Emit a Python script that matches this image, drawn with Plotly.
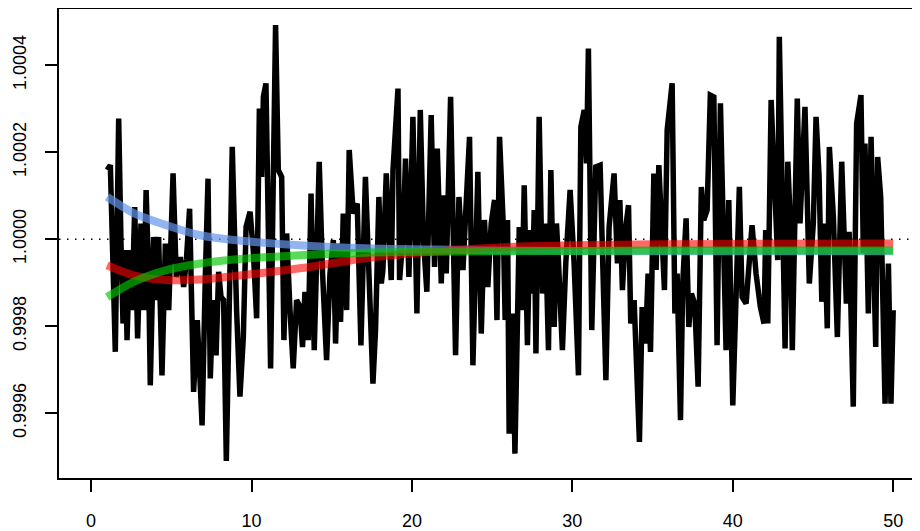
import plotly.graph_objects as go

# Black noisy series
black_x = [1.00, 1.20, 1.51, 1.72, 1.87, 1.99, 2.14, 2.24, 2.41, 2.55, 2.72, 2.90, 3.11, 3.28, 3.43, 3.59, 3.69,
           3.90, 4.07, 4.21, 4.42, 4.63, 4.84, 5.11, 5.31, 5.56, 5.77, 5.94, 6.14, 6.39, 6.62, 6.92, 7.12, 7.29,
           7.43, 7.60, 7.79, 7.95, 8.10, 8.26, 8.43, 8.80,
           9.07, 9.28, 9.49, 9.66, 9.91, 10.11, 10.32, 10.49, 10.63, 10.74, 10.90, 11.05, 11.19, 11.36, 11.50,
           11.67, 11.88, 12.02, 12.19, 12.40, 12.60, 12.81, 13.02, 13.18, 13.33, 13.54, 13.71, 13.91, 14.22,
           14.43, 14.68, 14.89, 15.10, 15.24, 15.41, 15.55, 15.72, 15.93, 16.09, 16.34, 16.59, 16.82, 17.10,
           17.57, 17.73, 17.94, 18.09, 18.19, 18.40, 18.71, 18.82, 19.13, 19.23, 19.44, 19.60, 19.81, 20.06,
           20.31, 20.52, 20.72, 20.93, 21.20, 21.41, 21.58, 21.83, 21.97, 22.14, 22.41, 22.55, 22.72, 22.93,
           23.18, 23.38, 23.59, 23.80, 24.11, 24.32, 24.52, 24.73, 24.94, 25.15, 25.30, 25.46,
           25.69, 25.81, 25.96, 26.06, 26.27, 26.42, 26.58, 26.69, 26.85, 27.00, 27.20, 27.35, 27.51, 27.62,
           27.73, 27.93, 28.14, 28.31, 28.51, 28.66, 28.87, 29.01, 29.13, 29.38, 29.59, 29.86, 30.11, 30.38,
           30.53, 30.74, 30.88, 31.00, 31.21, 31.46, 31.73, 31.88, 32.09, 32.29, 32.60, 32.81, 32.96, 33.12,
           33.33, 33.50, 33.64,
           33.85, 34.18, 34.35, 34.56, 34.72, 34.87, 35.08, 35.22, 35.39, 35.60, 35.74, 35.91, 36.22, 36.39,
           36.53, 36.74, 36.88, 37.09, 37.26, 37.42, 37.63, 37.84, 38.04, 38.19, 38.40, 38.60, 38.82, 39.02,
           39.23, 39.58, 39.75, 40.00, 40.21, 40.41, 40.58, 40.83, 41.20, 41.45, 41.72, 41.95,
           42.05, 42.18, 42.39, 42.64, 42.80, 42.90, 43.09, 43.26, 43.43, 43.57, 43.71, 44.02, 44.19, 44.50,
           44.77, 45.02, 45.19, 45.38, 45.55, 45.71, 45.89, 46.02, 46.27, 46.52, 46.79, 46.93, 47.08, 47.25,
           47.51, 47.72, 47.99, 48.14, 48.24, 48.45, 48.62, 48.76, 48.91, 49.03, 49.22, 49.49, 49.70, 49.86,
           50.00]
black_y = [1.000159, 1.000170, 0.999741, 1.000277, 0.999982, 0.999806, 0.999975, 0.999768, 0.999975, 0.999837,
           1.000074, 0.999772, 1.000036, 0.999837, 1.000113, 0.999913, 0.999664, 1.000005, 0.999860, 1.000005,
           0.999687, 0.999990, 0.999837, 1.000151, 0.999913, 0.999959, 0.999890, 0.999952, 1.000070, 0.999649,
           0.999814, 0.999572, 0.999913, 1.000139, 0.999680, 0.999860, 0.999733, 0.999925, 0.999867, 0.999860,
           0.999490, 1.000212,
           0.999837, 0.999638, 0.999775, 1.000028, 1.000063, 0.999975, 0.999818, 1.000300, 1.000143, 1.000327,
           1.000358, 0.999975, 0.999703, 1.000143, 1.000492, 1.000159, 1.000143, 0.999768, 1.000013, 0.999837,
           0.999703, 0.999860, 0.999845, 0.999752, 0.999879, 0.999768, 1.000105, 0.999745, 1.000178, 0.999921,
           0.999722, 0.999921, 0.999998, 0.999760, 0.999990, 0.999810, 1.000059, 0.999837, 1.000205, 1.000059,
           1.000082, 0.999756, 1.000143,
           0.999668, 0.999791, 1.000097, 0.999898, 0.999929, 1.000151, 0.999906, 1.000159, 1.000346, 0.999906,
           1.000005, 1.000185, 0.999913, 1.000281, 0.999829, 1.000297, 0.999998, 0.999879, 1.000285, 0.999936,
           1.000208, 0.999898, 1.000101, 0.999921, 1.000327, 1.000097, 0.999733, 1.000097, 0.999929, 1.000082,
           1.000235, 0.999710, 1.000155, 0.999783, 1.000044, 0.999890, 1.000036, 1.000090, 0.999814, 1.000235,
           1.000036, 0.999814, 1.000044, 0.999553, 0.999829, 0.999507, 0.999783, 1.000028, 0.999837, 1.000124,
           0.999756, 1.000021, 0.999875, 1.000067, 0.999737, 1.000281, 0.999875, 1.000036, 0.999745, 1.000159,
           0.999798, 1.000036, 0.999952, 0.999745, 0.999944, 1.000113, 0.999944, 0.999687, 1.000258, 1.000297,
           1.000174, 1.000438, 0.999791, 1.000166, 1.000170, 0.999990, 0.999676, 1.000028, 1.000151, 0.999944,
           1.000090, 0.999883, 1.000028, 1.000078, 0.999806,
           0.999860, 0.999534, 0.999844, 0.999760, 0.999921, 0.999741, 1.000151, 0.999929, 1.000170, 0.999990,
           0.999883, 1.000251, 1.000358, 0.999829, 0.999921, 0.999584, 0.999898, 1.000048, 0.999798, 0.999875,
           0.999852, 0.999661, 1.000120, 1.000044, 1.000067, 1.000331, 1.000327, 0.999756, 1.000312, 0.999745,
           1.000090, 0.999618, 0.999875, 1.000120, 0.999867, 0.999852, 1.000032, 0.999921, 0.999844, 0.999806,
           1.000021, 0.999806, 1.000320, 1.000036, 0.999952, 1.000465, 1.000021, 0.999749, 1.000178, 1.000051,
           0.999745, 1.000323, 1.000036, 1.000304, 0.999898, 1.000036, 1.000281, 1.000143, 0.999856, 1.000036,
           0.999795, 1.000212, 1.000051, 0.999775, 1.000178, 1.000021, 0.999852, 1.000017, 0.999615, 1.000266,
           1.000331, 0.999967, 1.000220, 0.999829, 1.000235, 0.999990, 0.999752, 1.000189, 1.000097, 0.999622,
           0.999944, 0.999622, 0.999837]

# Smooth curves
curve_x = [1, 2.65, 4.7, 6.8, 8.9, 13, 17.1, 21.2, 25.4, 30, 40, 50]
blue_y = [1.000097, 1.000060, 1.000032, 1.000009, 0.999998, 0.999986, 0.999979, 0.999976, 0.999974,
          0.999973, 0.999972, 0.999972]
red_y = [0.999940, 0.999917, 0.999906, 0.999907, 0.999915, 0.999933, 0.999956, 0.999971, 0.999981,
         0.999986, 0.999989, 0.999990]
green_y = [0.999867, 0.999902, 0.999929, 0.999944, 0.999953, 0.999963, 0.999969, 0.999971, 0.999972,
           0.999973, 0.999974, 0.999974]

x_ticks = [0, 10, 20, 30, 40, 50]
y_ticks = [0.9996, 0.9998, 1.0, 1.0002, 1.0004]
y_ticktext = ["0.9996", "0.9998", "1.0000", "1.0002", "1.0004"]
ref_level = 1.0

XR = [-2, 51.67]
YR = [0.999451, 1.000529]

fig = go.Figure()
fig.add_trace(go.Scatter(x=XR, y=[ref_level, ref_level], mode="lines",
                         line=dict(color="black", width=1.5, dash="1.5px,6.5px"), hoverinfo="skip"))
fig.add_trace(go.Scatter(x=black_x, y=black_y, mode="lines",
                         line=dict(color="black", width=5.5)))
fig.add_trace(go.Scatter(x=curve_x, y=blue_y, mode="lines",
                         line=dict(color="rgba(100,149,237,0.7)", width=8, shape="spline", smoothing=0.8)))
fig.add_trace(go.Scatter(x=curve_x, y=red_y, mode="lines",
                         line=dict(color="rgba(255,0,0,0.6)", width=8, shape="spline", smoothing=0.8)))
fig.add_trace(go.Scatter(x=curve_x, y=green_y, mode="lines",
                         line=dict(color="rgba(0,200,0,0.65)", width=8, shape="spline", smoothing=0.8)))

font = dict(family="Liberation Sans, Arial, sans-serif", size=18, color="black")
fig.update_layout(
    width=920, height=531, showlegend=False,
    margin=dict(l=51, r=8, t=1, b=61, autoexpand=False),
    paper_bgcolor="white", plot_bgcolor="white",
    font=font,
    xaxis=dict(range=XR, showgrid=False, zeroline=False, showline=True, mirror=True, automargin=False,
               linecolor="black", linewidth=2, ticks="outside", ticklen=12, tickwidth=1.5,
               tickcolor="black", tickvals=x_ticks, ticklabelstandoff=13, tickfont=font),
    yaxis=dict(range=YR, showgrid=False, zeroline=False, showline=True, mirror=False, automargin=False,
               linecolor="black", linewidth=2, ticks="outside", ticklen=12, tickwidth=1.5,
               tickcolor="black", tickvals=y_ticks, ticktext=y_ticktext, tickangle=-90,
               ticklabelstandoff=12, tickfont=font),
)
fig.write_html("out.html")
